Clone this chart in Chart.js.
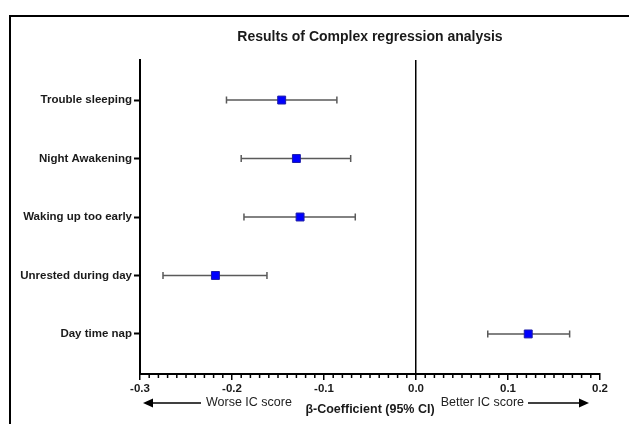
<!DOCTYPE html>
<html>
<head>
<meta charset="utf-8">
<script src="https://cdn.jsdelivr.net/npm/chart.js@4.4.1/dist/chart.umd.min.js"></script>
<style>
  html, body { margin: 0; padding: 0; background: #ffffff; }
  #wrap { position: relative; width: 629px; height: 424px; }
</style>
</head>
<body>
<div id="wrap"><canvas id="forest-chart" width="629" height="424"></canvas></div>
<script>
const categories = [
  "Trouble sleeping",
  "Night Awakening",
  "Waking up too early",
  "Unrested during day",
  "Day time nap"
];
const estimates = [-0.146, -0.130, -0.126, -0.218, 0.122];
const lowerCI = [-0.206, -0.190, -0.187, -0.275, 0.078];
const upperCI = [-0.086, -0.071, -0.066, -0.162, 0.167];

const xTickValues = [-0.3, -0.2, -0.1, 0.0, 0.1, 0.2];

const FONT = "'Liberation Sans', Arial, sans-serif";

const errorBarPlugin = {
  id: "errorBars",
  beforeDatasetsDraw(chart) {
    const { ctx, scales } = chart;
    ctx.save();
    ctx.strokeStyle = "#5a5a5a";
    ctx.lineWidth = 1.5;
    categories.forEach((label, index) => {
      const y = scales.y.getPixelForValue(index + 1);
      const x1 = scales.x.getPixelForValue(lowerCI[index]);
      const x2 = scales.x.getPixelForValue(upperCI[index]);
      ctx.beginPath();
      ctx.moveTo(x1, y);
      ctx.lineTo(x2, y);
      ctx.moveTo(x1, y - 3.5);
      ctx.lineTo(x1, y + 3.5);
      ctx.moveTo(x2, y - 3.5);
      ctx.lineTo(x2, y + 3.5);
      ctx.stroke();
    });
    ctx.restore();
  }
};

function drawArrow(ctx, fromX, toX, y) {
  const dir = toX > fromX ? 1 : -1;
  ctx.beginPath();
  ctx.moveTo(fromX, y);
  ctx.lineTo(toX - dir * 8, y);
  ctx.stroke();
  ctx.beginPath();
  ctx.moveTo(toX, y);
  ctx.lineTo(toX - dir * 10, y - 4.5);
  ctx.lineTo(toX - dir * 10, y + 4.5);
  ctx.closePath();
  ctx.fill();
}

const decorPlugin = {
  id: "decor",
  beforeDraw(chart) {
    const { ctx } = chart;
    ctx.save();
    ctx.strokeStyle = "#000000";
    ctx.lineWidth = 2;
    ctx.strokeRect(10, 16, 720, 520);
    ctx.restore();
  },
  afterDraw(chart) {
    const { ctx, scales, chartArea } = chart;
    const xScale = scales.x;
    ctx.save();

    // minor ticks every 0.01
    ctx.strokeStyle = "#000000";
    ctx.lineWidth = 1.5;
    ctx.beginPath();
    for (let i = -30; i <= 20; i++) {
      if (i % 10 === 0) continue;
      const x = xScale.getPixelForValue(i / 100);
      ctx.moveTo(x, chartArea.bottom);
      ctx.lineTo(x, chartArea.bottom + 4);
    }
    ctx.stroke();

    const centerX = (chartArea.left + chartArea.right) / 2;

    ctx.fillStyle = "#1a1a1a";
    ctx.textAlign = "center";
    ctx.textBaseline = "middle";
    ctx.font = `bold 14px ${FONT}`;
    ctx.fillText("Results of Complex regression analysis", centerX, 37);

    ctx.font = `bold 12.5px ${FONT}`;
    ctx.fillText("β-Coefficient (95% CI)", centerX, 410);

    ctx.font = `12.5px ${FONT}`;
    ctx.fillStyle = "#222222";
    ctx.textAlign = "left";
    ctx.fillText("Worse IC score", 206, 403);
    ctx.textAlign = "right";
    ctx.fillText("Better IC score", 524, 403);

    ctx.strokeStyle = "#000000";
    ctx.fillStyle = "#000000";
    ctx.lineWidth = 1.5;
    drawArrow(ctx, 201, 143, 403);
    drawArrow(ctx, 528, 589, 403);

    ctx.restore();
  }
};

new Chart(document.getElementById("forest-chart"), {
  type: "scatter",
  data: {
    datasets: [
      {
        label: "β-Coefficient",
        data: estimates.map((value, index) => ({ x: value, y: index + 1 })),
        pointStyle: "rect",
        pointRadius: 5.6,
        pointHoverRadius: 5.6,
        backgroundColor: "#0000ff",
        borderColor: "#1c1ca8",
        borderWidth: 1
      }
    ]
  },
  options: {
    responsive: false,
    animation: false,
    layout: {
      padding: { left: 0, top: 60, right: 29, bottom: 0 }
    },
    plugins: {
      legend: { display: false },
      tooltip: { enabled: false },
      title: { display: false }
    },
    scales: {
      x: {
        type: "linear",
        min: -0.3,
        max: 0.2,
        afterBuildTicks(scale) {
          scale.ticks = xTickValues.map((value) => ({ value }));
        },
        afterFit(scale) {
          scale.height = 50;
        },
        ticks: {
          color: "#1a1a1a",
          padding: 2,
          font: { family: FONT, size: 11.5, weight: "bold" },
          callback(value) {
            return Number(value).toFixed(1);
          }
        },
        grid: {
          drawOnChartArea: true,
          color(context) {
            return context.tick && context.tick.value === 0 ? "#000000" : "rgba(0,0,0,0)";
          },
          lineWidth: 1.5,
          tickLength: 6,
          tickColor: "#000000",
          tickWidth: 1.5
        },
        border: { display: true, color: "#000000", width: 2 }
      },
      y: {
        type: "linear",
        reverse: true,
        min: 0.315,
        max: 5.685,
        afterBuildTicks(scale) {
          scale.ticks = categories.map((label, index) => ({ value: index + 1 }));
        },
        afterFit(scale) {
          scale.width = 140;
        },
        ticks: {
          color: "#1a1a1a",
          padding: 2,
          font: { family: FONT, size: 11.5, weight: "bold" },
          callback(value) {
            return categories[Math.round(value) - 1] || "";
          }
        },
        grid: {
          drawOnChartArea: false,
          tickLength: 6,
          tickColor: "#000000",
          tickWidth: 2
        },
        border: { display: true, color: "#000000", width: 2 }
      }
    }
  },
  plugins: [errorBarPlugin, decorPlugin]
});
</script>
</body>
</html>
